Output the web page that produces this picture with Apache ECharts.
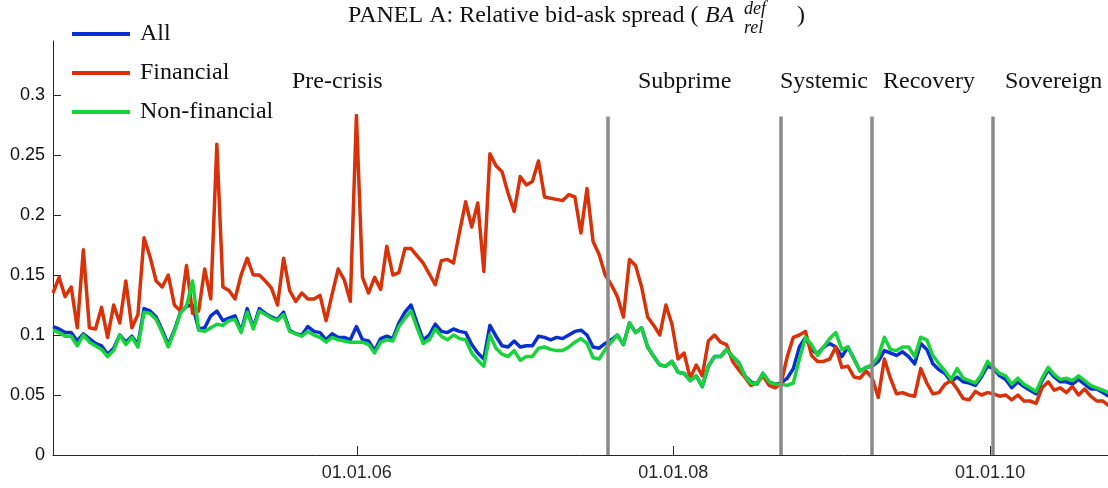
<!DOCTYPE html>
<html>
<head>
<meta charset="utf-8">
<script src="https://cdn.jsdelivr.net/npm/echarts@6/dist/echarts.min.js"></script>
<style>
html,body{margin:0;padding:0;background:#fff;}
#chart{width:1108px;height:488px;}
</style>
</head>
<body>
<div id="chart"></div>
<script>
// ---- data (bi-weekly observations starting 2004-01-31) ----
const startDate = '2004-01-31';
const stepDays = 14;
const seriesNames = ['All', 'Financial', 'Non-financial'];

const allValues = [
0.107,0.105,0.102,0.102,0.095,0.101,0.097,0.093,0.091,0.084,
0.089,0.100,0.094,0.099,0.092,0.122,0.120,0.115,0.104,0.092,
0.104,0.119,0.124,0.125,0.105,0.106,0.116,0.120,0.112,0.114,
0.116,0.103,0.122,0.106,0.122,0.118,0.115,0.113,0.119,0.104,
0.101,0.100,0.107,0.103,0.102,0.096,0.101,0.098,0.098,0.096,
0.107,0.096,0.095,0.087,0.097,0.099,0.097,0.110,0.119,0.125,
0.110,0.096,0.100,0.109,0.103,0.102,0.105,0.103,0.102,0.092,
0.085,0.080,0.108,0.099,0.091,0.090,0.095,0.090,0.091,0.091,
0.099,0.098,0.096,0.098,0.097,0.100,0.103,0.104,0.100,0.090,
0.089,0.093,0.096,0.100,0.092,0.110,0.102,0.106,0.090,0.082,
0.075,0.074,0.078,0.069,0.068,0.062,0.066,0.057,0.074,0.082,
0.082,0.088,0.082,0.077,0.066,0.061,0.059,0.068,0.061,0.059,
0.060,0.064,0.072,0.090,0.098,0.088,0.084,0.090,0.093,0.090,
0.082,0.090,0.080,0.070,0.073,0.074,0.078,0.087,0.085,0.083,
0.086,0.082,0.076,0.093,0.088,0.076,0.071,0.068,0.061,0.065,
0.061,0.060,0.058,0.065,0.074,0.072,0.066,0.063,0.056,0.061,
0.057,0.054,0.051,0.062,0.071,0.065,0.061,0.061,0.059,0.063,
0.059,0.055,0.055,0.052,0.049
];

const financialValues = [
0.135,0.148,0.132,0.140,0.106,0.171,0.106,0.105,0.123,0.098,
0.125,0.110,0.145,0.106,0.117,0.181,0.165,0.145,0.140,0.150,
0.125,0.120,0.158,0.118,0.120,0.155,0.130,0.259,0.140,0.137,
0.130,0.150,0.164,0.150,0.150,0.145,0.139,0.125,0.164,0.137,
0.128,0.135,0.130,0.130,0.133,0.112,0.134,0.155,0.146,0.128,
0.283,0.148,0.135,0.148,0.138,0.174,0.150,0.152,0.172,0.172,
0.166,0.160,0.151,0.142,0.162,0.163,0.160,0.186,0.211,0.190,
0.210,0.153,0.251,0.241,0.236,0.218,0.203,0.232,0.225,0.228,
0.245,0.215,0.214,0.213,0.212,0.217,0.215,0.185,0.222,0.178,
0.167,0.150,0.142,0.132,0.115,0.163,0.158,0.140,0.115,0.108,
0.100,0.125,0.109,0.080,0.085,0.064,0.075,0.066,0.095,0.100,
0.094,0.092,0.078,0.071,0.065,0.058,0.060,0.066,0.058,0.056,
0.060,0.082,0.098,0.100,0.103,0.083,0.078,0.078,0.080,0.090,
0.073,0.074,0.065,0.064,0.070,0.064,0.048,0.080,0.064,0.051,
0.052,0.050,0.049,0.072,0.060,0.051,0.052,0.059,0.062,0.055,
0.047,0.046,0.053,0.050,0.052,0.051,0.049,0.050,0.046,0.050,
0.045,0.045,0.043,0.056,0.061,0.054,0.056,0.052,0.057,0.050,
0.055,0.049,0.045,0.045,0.041
];

const nonFinancialValues = [
0.104,0.102,0.099,0.099,0.091,0.100,0.094,0.091,0.088,0.082,
0.087,0.100,0.092,0.098,0.090,0.119,0.118,0.113,0.102,0.090,
0.103,0.118,0.124,0.145,0.104,0.103,0.106,0.109,0.108,0.112,
0.113,0.102,0.119,0.105,0.120,0.117,0.114,0.112,0.117,0.103,
0.101,0.099,0.103,0.100,0.098,0.094,0.098,0.096,0.095,0.094,
0.094,0.094,0.092,0.085,0.094,0.096,0.095,0.107,0.114,0.120,
0.106,0.093,0.096,0.105,0.099,0.096,0.100,0.097,0.096,0.085,
0.079,0.074,0.100,0.089,0.084,0.082,0.087,0.079,0.082,0.082,
0.089,0.090,0.088,0.087,0.087,0.090,0.094,0.097,0.093,0.081,
0.080,0.088,0.094,0.100,0.092,0.110,0.102,0.106,0.090,0.082,
0.075,0.074,0.078,0.069,0.068,0.062,0.066,0.057,0.074,0.082,
0.082,0.088,0.082,0.077,0.066,0.060,0.059,0.068,0.061,0.059,
0.059,0.058,0.060,0.080,0.098,0.092,0.083,0.090,0.097,0.102,
0.088,0.090,0.080,0.070,0.073,0.075,0.082,0.098,0.088,0.087,
0.090,0.090,0.082,0.098,0.096,0.083,0.076,0.070,0.063,0.072,
0.064,0.062,0.060,0.067,0.078,0.073,0.068,0.066,0.059,0.064,
0.059,0.056,0.053,0.064,0.073,0.067,0.063,0.064,0.062,0.066,
0.062,0.058,0.056,0.054,0.052
];

// crisis period boundaries and labels
const eventDates = ['2007-08-02', '2008-09-04', '2009-04-03', '2010-01-07'];
const eventLineTop = 0.282;
const periodLabels = ['Pre-crisis', 'Subprime', 'Systemic', 'Recovery', 'Sovereign'];

// axes
const xMin = '2004-01-31';
const xMax = '2010-09-30';
const xTickDates = ['2006-01-01', '2008-01-01', '2010-01-01'];
const xTickLabels = ['01.01.06', '01.01.08', '01.01.10'];
const yTicks = [0, 0.05, 0.1, 0.15, 0.2, 0.25, 0.3];
const yMax = 0.345;

// ---- build ----
function toTs(s) { const p = s.split('-').map(Number); return Date.UTC(p[0], p[1]-1, p[2]); }
const t0 = toTs(startDate);
const dayMs = 86400000;
function pairs(vals) { return vals.map((v, i) => [t0 + i * stepDays * dayMs, v]); }

const xTickTs = xTickDates.map(toTs);
const colors = ['#0a2fd0', '#d93209', '#16d43a'];
const serif = '"Liberation Serif", "Times New Roman", serif';
const sans = '"Liberation Sans", Arial, sans-serif';

const chart = echarts.init(document.getElementById('chart'), null, {renderer: 'canvas'});

const lineSeries = [allValues, financialValues, nonFinancialValues].map((vals, k) => ({
  name: seriesNames[k],
  type: 'line',
  data: pairs(vals),
  showSymbol: false,
  symbol: 'none',
  lineStyle: {width: 3.5, color: colors[k], join: 'round'},
  itemStyle: {color: colors[k]},
  z: 2 + k,
  silent: true
}));

lineSeries.push({
  name: 'events',
  type: 'line',
  data: [],
  z: 10,
  silent: true,
  markLine: {
    silent: true,
    symbol: ['none', 'none'],
    label: {show: false},
    lineStyle: {color: '#8a8a8a', width: 3.5, type: 'solid'},
    data: eventDates.map(d => [{coord: [toTs(d), 0]}, {coord: [toTs(d), eventLineTop]}])
  }
});

const labelPos = [292, 638, 780, 883, 1005];

const option = {
  animation: false,
  backgroundColor: '#ffffff',
  grid: {left: 53, right: 0, top: 41, bottom: 33, containLabel: false},
  xAxis: {
    type: 'value',
    min: toTs(xMin),
    max: toTs(xMax),
    axisLine: {show: true, onZero: false, lineStyle: {color: '#262626', width: 1}},
    axisTick: {show: true, inside: true, length: 9, lineStyle: {color: '#262626'}, customValues: xTickTs},
    axisLabel: {
      show: true, color: '#262626', fontFamily: sans, fontSize: 18, margin: 9,
      customValues: xTickTs,
      formatter: function (v) { const i = xTickTs.indexOf(v); return i >= 0 ? xTickLabels[i] : ''; }
    },
    splitLine: {show: false}
  },
  yAxis: {
    type: 'value',
    min: 0,
    max: yMax,
    axisLine: {show: true, onZero: false, lineStyle: {color: '#262626', width: 1}},
    axisTick: {show: true, inside: true, length: 8, lineStyle: {color: '#262626'}, customValues: yTicks},
    axisLabel: {
      show: true, color: '#111', fontFamily: sans, fontSize: 18, margin: 8,
      customValues: yTicks,
      formatter: function (v) { return String(+(+v).toFixed(2)); }
    },
    splitLine: {show: false}
  },
  legend: {
    data: seriesNames,
    orient: 'vertical',
    left: 67,
    top: 17,
    icon: 'rect',
    itemWidth: 58,
    itemHeight: 4,
    itemGap: 15,
    textStyle: {fontFamily: serif, fontSize: 24, color: '#111', lineHeight: 24, padding: [0, 0, 0, 5]},
    selectedMode: false
  },
  graphic: [
    {type: 'text', left: 348, top: 4, style: {text: 'PANEL A: Relative bid-ask spread (', font: '24px "Liberation Serif"', fill: '#111'}},
    {type: 'text', left: 705, top: 4, style: {text: 'BA', font: 'italic 24px "Liberation Serif"', fill: '#111'}},
    {type: 'text', left: 744, top: 0, style: {text: 'def', font: 'italic 18px "Liberation Serif"', fill: '#111'}},
    {type: 'text', left: 744, top: 19, style: {text: 'rel', font: 'italic 18px "Liberation Serif"', fill: '#111'}},
    {type: 'text', left: 797, top: 4, style: {text: ')', font: '24px "Liberation Serif"', fill: '#111'}}
  ].concat(periodLabels.map((s, i) => ({
    type: 'text', left: labelPos[i], top: 70,
    style: {text: s, font: '24px "Liberation Serif"', fill: '#111'}
  }))),
  series: lineSeries
};

chart.setOption(option);
</script>
</body>
</html>
